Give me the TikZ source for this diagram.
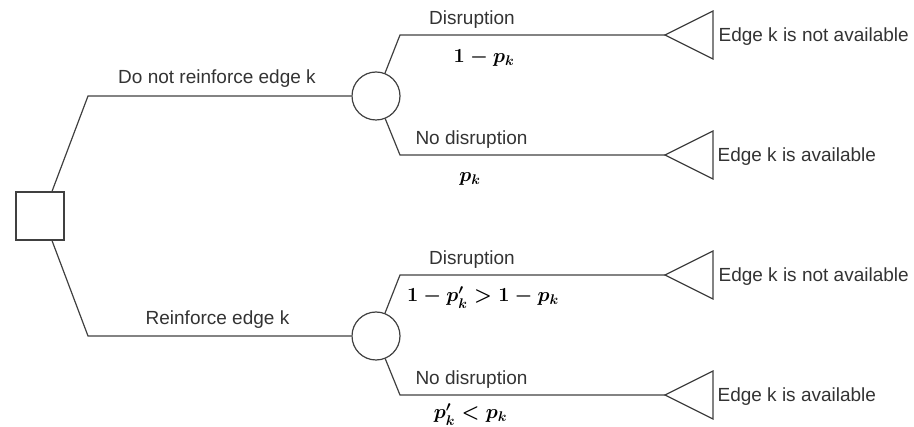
\documentclass[tikz,border=0pt]{standalone}
\usepackage{fix-cm}
\usepackage[no-math]{fontspec}
\newfontfamily\arial{Liberation Sans}
\usepackage{amsmath}
\definecolor{ln}{HTML}{404040}
\definecolor{tx}{HTML}{333333}
\begin{document}
\begin{tikzpicture}[x=1pt,y=-1pt,line width=1.2pt,
  conn/.style={draw=ln},
  sqbox/.style={draw=ln,fill=white,minimum size=48pt,inner sep=0pt},
  chance/.style={draw=ln,fill=white,circle,minimum size=48pt,inner sep=0pt},
  lbl/.style={text=tx,font=\arial\fontsize{19}{22}\selectfont,inner sep=0pt,anchor=base},
  outc/.style={lbl,anchor=base west},
  prob/.style={text=black,font=\fontsize{20}{24}\selectfont\boldmath,inner sep=0pt,anchor=base}]
\useasboundingbox (0,0) rectangle (914,427);
% nodes
\node[sqbox] (d) at (40,216) {};
\node[chance] (c1) at (376,96) {};
\node[chance] (c2) at (376,336) {};
% knees
\coordinate (k1) at (88,96);
\coordinate (k2) at (88,336);
\coordinate (u1) at (400,35);
\coordinate (u2) at (400,155);
\coordinate (u3) at (400,275);
\coordinate (u4) at (400,395);
\coordinate (t1) at (665,35);
\coordinate (t2) at (665,155);
\coordinate (t3) at (665,275);
\coordinate (t4) at (665,395);
% connectors
\draw[conn] ([xshift=12pt]d.north) -- (k1) -- (c1);
\draw[conn] ([xshift=12pt]d.south) -- (k2) -- (c2);
\draw[conn] (c1) -- (u1) -- (t1);
\draw[conn] (c1) -- (u2) -- (t2);
\draw[conn] (c2) -- (u3) -- (t3);
\draw[conn] (c2) -- (u4) -- (t4);
% terminal triangles
\foreach \t in {t1,t2,t3,t4}
  \draw[conn,line join=miter] (\t) -- ++(48,-24) -- ++(0,48) -- cycle;
% labels
\node[lbl] (l1) at (217,84) {Do not reinforce edge k};
\node[lbl] (l2) at (217.5,325) {Reinforce edge k};
\node[lbl] (a1) at (472,25) {Disruption};
\node[lbl] (a2) at (471.5,145) {No disruption};
\node[lbl] (a3) at (472,265) {Disruption};
\node[lbl] (a4) at (471.5,385) {No disruption};
\node[prob] (p1) at (484,63) {$1-p_k$};
\node[prob] (p2) at (470,182) {$p_k$};
\node[prob] (p3) at (483,302) {$1-p'_k>1-p_k$};
\node[prob] (p4) at (470.5,419) {$p'_k<p_k$};
\node[outc] (o1) at (718,42) {Edge k is not available};
\node[outc] (o2) at (717,162) {Edge k is available};
\node[outc] (o3) at (718,282) {Edge k is not available};
\node[outc] (o4) at (717,402) {Edge k is available};
\end{tikzpicture}
\end{document}
